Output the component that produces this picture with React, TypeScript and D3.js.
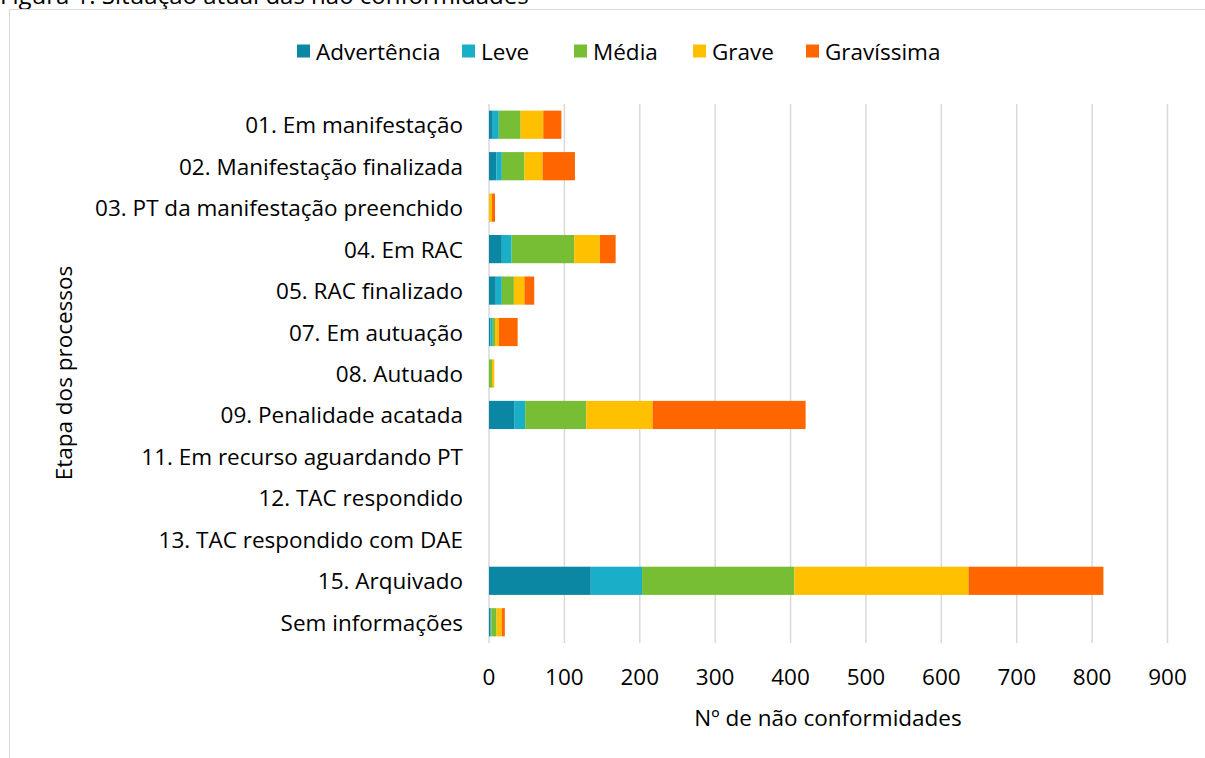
import React from 'react'
import * as d3 from 'd3'

const categories = [
  '01. Em manifestação',
  '02. Manifestação finalizada',
  '03. PT da manifestação preenchido',
  '04. Em RAC',
  '05. RAC finalizado',
  '07. Em autuação',
  '08. Autuado',
  '09. Penalidade acatada',
  '11. Em recurso aguardando PT',
  '12. TAC respondido',
  '13. TAC respondido com DAE',
  '15. Arquivado',
  'Sem informações',
]

const seriesNames = ['Advertência', 'Leve', 'Média', 'Grave', 'Gravíssima']
const colors = ['#0B87A4', '#1AAFC9', '#78BE34', '#FFC000', '#FF6600']

const advertencia = [5, 10, 0, 17, 9, 2, 0, 34, 0, 0, 0, 135, 2]
const leve = [8, 7, 0, 13, 8, 3, 0, 14, 0, 0, 0, 68, 1]
const media = [29, 30, 0, 83, 16, 3, 4, 81, 0, 0, 0, 202, 7]
const grave = [30, 24, 4, 34, 14, 5, 3, 88, 0, 0, 0, 231, 7]
const gravissima = [24, 43, 4, 21, 13, 25, 0, 203, 0, 0, 0, 179, 4]

const xTicks = [0, 100, 200, 300, 400, 500, 600, 700, 800, 900]

const W = 1205
const H = 758
const margin = { top: 104, right: 37.5, bottom: 115, left: 489 }
const font = "'Open Sans', 'Noto Sans', sans-serif"
const fs = 22.5

export default function App() {
  const rows = categories.map((c, i) => ({
    cat: c,
    'Advertência': advertencia[i],
    Leve: leve[i],
    'Média': media[i],
    Grave: grave[i],
    'Gravíssima': gravissima[i],
  }))
  const stacked = d3.stack<any>().keys(seriesNames)(rows)

  const x = d3.scaleLinear().domain([0, 900]).range([margin.left, W - margin.right])
  const y = d3
    .scaleBand()
    .domain(categories)
    .range([margin.top, H - margin.bottom])
    .paddingInner(0.32)
    .paddingOuter(0.16)

  const legendX = [297, 462, 574, 693, 806]

  return (
    <svg
      width={W}
      height={H}
      style={{ position: 'absolute', left: 0, top: 0, background: '#fff' }}
      fontFamily={font}
    >
      <text x={0} y={4} fontSize={24} fill="#000">
        Figura 1. Situação atual das não conformidades
      </text>
      <rect x={9.5} y={9.5} width={W} height={H} fill="#fff" stroke="#D9D9D9" />

      {/* gridlines */}
      {xTicks.map((t) => (
        <line
          key={t}
          x1={x(t)}
          x2={x(t)}
          y1={margin.top}
          y2={H - margin.bottom}
          stroke="#D9D9D9"
          strokeWidth={1.5}
        />
      ))}

      {/* bars */}
      {stacked.map((s, si) => (
        <g key={s.key} fill={colors[si]}>
          {s.map((d, i) =>
            d[1] - d[0] > 0 ? (
              <rect
                key={i}
                x={x(d[0])}
                y={y(categories[i])}
                width={x(d[1]) - x(d[0])}
                height={y.bandwidth()}
              />
            ) : null,
          )}
        </g>
      ))}

      {/* category labels */}
      {categories.map((c) => (
        <text
          key={c}
          x={463}
          y={(y(c) as number) + y.bandwidth() / 2}
          textAnchor="end"
          dominantBaseline="central"
          fontSize={fs}
          fill="#000"
        >
          {c}
        </text>
      ))}

      {/* x tick labels */}
      {xTicks.map((t) => (
        <text key={t} x={x(t)} y={676} textAnchor="middle" dominantBaseline="central" fontSize={fs} fill="#000">
          {t}
        </text>
      ))}

      <text x={828} y={717} textAnchor="middle" dominantBaseline="central" fontSize={fs} fill="#000">
        Nº de não conformidades
      </text>
      <text
        transform={`translate(63,373) rotate(-90)`}
        textAnchor="middle"
        dominantBaseline="central"
        fontSize={fs}
        fill="#000"
      >
        Etapa dos processos
      </text>

      {/* legend */}
      {seriesNames.map((n, i) => (
        <g key={n} transform={`translate(${legendX[i]},51)`}>
          <rect x={0} y={-6.5} width={13} height={13} fill={colors[i]} />
          <text x={19} y={0} dominantBaseline="central" fontSize={fs} fill="#000">
            {n}
          </text>
        </g>
      ))}
    </svg>
  )
}
